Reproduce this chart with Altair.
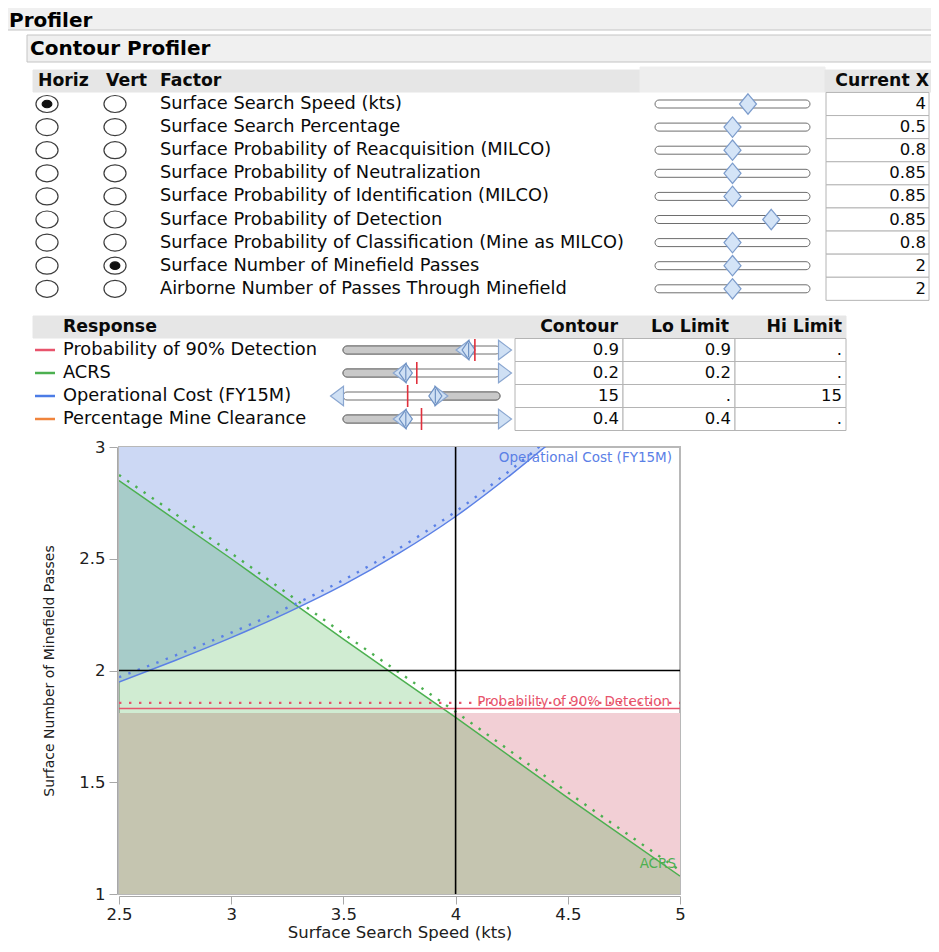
import altair as alt
import pandas as pd

# ---------------- values ----------------
factor_names = [
    "Surface Search Speed (kts)",
    "Surface Search Percentage",
    "Surface Probability of Reacquisition (MILCO)",
    "Surface Probability of Neutralization",
    "Surface Probability of Identification (MILCO)",
    "Surface Probability of Detection",
    "Surface Probability of Classification (Mine as MILCO)",
    "Surface Number of Minefield Passes",
    "Airborne Number of Passes Through Minefield",
]
factor_current = [4, 0.5, 0.8, 0.85, 0.85, 0.85, 0.8, 2, 2]
factor_current_text = ["4", "0.5", "0.8", "0.85", "0.85", "0.85", "0.8", "2", "2"]
factor_low = [2.5, 0.0, 0.7, 0.8, 0.8, 0.7, 0.7, 1, 1]
factor_high = [5.0, 1.0, 0.9, 0.9, 0.9, 0.9, 0.9, 3, 3]
horiz_factor = 0
vert_factor = 7

response_names = ["Probability of 90% Detection", "ACRS",
                  "Operational Cost (FY15M)", "Percentage Mine Clearance"]
response_colors = ["#e8546c", "#4cb050", "#4c7ce6", "#f0843c"]
response_contour = [0.9, 0.2, 15, 0.4]
response_contour_text = ["0.9", "0.2", "15", "0.4"]
response_lo = [0.9, 0.2, None, 0.4]
response_lo_text = ["0.9", "0.2", ".", "0.4"]
response_hi = [None, None, 15, None]
response_hi_text = [".", ".", "15", "."]
response_min = [0.5, 0.0, 5.0, 0.0]
response_max = [1.0, 0.5, 22.0, 1.0]
response_current = [0.92, 0.235, 12.0, 0.5]

# contour curves (x = Surface Search Speed, y = Surface Number of Minefield Passes)
acrs_x = [2.5, 3.0, 3.5, 4.0, 4.5, 5.0]
acrs_y = [2.85, 2.50, 2.14, 1.79, 1.43, 1.08]
cost_x = [2.5, 2.75, 3.0, 3.25, 3.5, 3.75, 4.0, 4.25, 4.45]
cost_y = [1.948, 2.045, 2.147, 2.259, 2.383, 2.526, 2.689, 2.879, 3.043]
detect_x = [2.5, 5.0]
detect_y = [1.83, 1.83]

# ---------------- layout (page pixels) ----------------
OX, OY = 119, 447          # plot origin on the page
PW, PH = 561, 447          # plot size
FY0, FSTEP = 104, 23.1     # factor rows
RY0, RSTEP = 350, 23       # response rows
FTRACK = (655, 810)
RTRACK = (343, 500)
FONT = "DejaVu Sans"
TXT = "#0a0a0a"
FS_TEXT = 17.8
FS_NUM = 16.5
FS_HEAD = 17.3
FS_TITLE = 20


def X(v):
    return v - OX


def Y(v):
    return v - OY


# rectangles: bars, bands, boxes
rects = []


def rect(x1, x2, y1, y2, fill, stroke):
    rects.append({"x": X(x1), "x2": X(x2), "y": Y(y1), "y2": Y(y2),
                  "fill": fill, "stroke": stroke})


rect(5, 945, 5, 30, "#f0f0f0", "#c4c4c4")
rect(27, 945, 35, 62, "#f0f0f0", "#c4c4c4")
rect(33, 640, 70, 92, "#e6e6e6", "#e6e6e6")
rect(640, 825, 67, 92, "#eeeeee", "#eeeeee")
rect(825, 945, 70, 92, "#e6e6e6", "#e6e6e6")
rect(33, 846, 316, 338, "#e6e6e6", "#e6e6e6")
for i in range(len(factor_names)):
    ry = FY0 + i * FSTEP
    rect(826, 929, ry - FSTEP / 2, ry + FSTEP / 2, "#ffffff", "#b4b4b4")
for j in range(len(response_names)):
    ry = RY0 + j * RSTEP
    for a, b in [(515, 623), (623, 735), (735, 846)]:
        rect(a, b, ry - RSTEP / 2, ry + RSTEP / 2, "#ffffff", "#b4b4b4")

tracks = []
symbols = []
cur_rules = []
legend_lines = []

ELL = "M-1.3,0A1.3,1,0,1,1,1.3,0A1.3,1,0,1,1,-1.3,0Z"
THUMB = "M0,-1.2L1,0L0,1.2L-1,0Z"
RTHUMB = "M0,-1.45L1,0L0,1.45L-1,0Z M0,-1.1L0,1.1"
TRI_L = "M1,-1.5L-1,0L1,1.5Z"
TRI_R = "M-1,-1.5L1,0L-1,1.5Z"

for i in range(len(factor_names)):
    ry = FY0 + i * FSTEP
    tracks.append({"x": X(FTRACK[0]), "x2": X(FTRACK[1]), "y": Y(ry - 4), "y2": Y(ry + 4), "fill": "#ffffff"})
    for k, cx in enumerate([47, 115]):
        symbols.append({"x": X(cx), "y": Y(ry), "shape": ELL, "size": 289, "fill": "#ffffff", "stroke": "#3c3c3c"})
        sel = horiz_factor if k == 0 else vert_factor
        if sel == i:
            symbols.append({"x": X(cx), "y": Y(ry), "shape": ELL, "size": 56, "fill": "#111111", "stroke": "#111111"})
for i in range(len(factor_names)):
    ry = FY0 + i * FSTEP
    frac = (factor_current[i] - factor_low[i]) / (factor_high[i] - factor_low[i])
    px = FTRACK[0] + frac * (FTRACK[1] - FTRACK[0])
    symbols.append({"x": X(px), "y": Y(ry), "shape": THUMB, "size": 289, "fill": "#d4e4f7", "stroke": "#7c9ccc"})

rw = RTRACK[1] - RTRACK[0]
for j in range(len(response_names)):
    ry = RY0 + j * RSTEP
    lo_, hi_ = response_min[j], response_max[j]

    def pos(v):
        return RTRACK[0] + (v - lo_) / (hi_ - lo_) * rw

    tracks.append({"x": X(RTRACK[0]), "x2": X(RTRACK[1]), "y": Y(ry - 4), "y2": Y(ry + 4), "fill": "#ffffff"})
    if response_lo[j] is not None:
        tracks.append({"x": X(RTRACK[0]), "x2": X(pos(response_lo[j])), "y": Y(ry - 4), "y2": Y(ry + 4), "fill": "#c9c9c9"})
        lx = pos(response_lo[j]) - 6
    else:
        lx = RTRACK[0] - 6
    if response_hi[j] is not None:
        tracks.append({"x": X(pos(response_hi[j])), "x2": X(RTRACK[1]), "y": Y(ry - 4), "y2": Y(ry + 4), "fill": "#c9c9c9"})
        hx = pos(response_hi[j]) + 6
    else:
        hx = RTRACK[1] + 5
    symbols.append({"x": X(lx), "y": Y(ry), "shape": TRI_L, "size": 169, "fill": "#cfe0f4", "stroke": "#8aa6d0"})
    symbols.append({"x": X(hx), "y": Y(ry), "shape": TRI_R, "size": 169, "fill": "#cfe0f4", "stroke": "#8aa6d0"})
    symbols.append({"x": X(pos(response_contour[j])), "y": Y(ry), "shape": RTHUMB, "size": 169, "fill": "#cfe0f4", "stroke": "#6f92c4"})
    cx = pos(response_current[j])
    cur_rules.append({"x": X(cx), "y": Y(ry - 11), "y2": Y(ry + 11)})
    legend_lines.append({"x": X(35), "x2": X(55), "y": Y(ry), "c": response_colors[j]})

# texts
bold_left, bold_right, norm_left, norm_right = [], [], [], []


def txt(lst, s, x, y, fs, c=TXT):
    lst.append({"t": s, "x": X(x), "y": Y(y), "fs": fs, "c": c})


txt(bold_left, "Profiler", 9, 20.5, FS_TITLE, "#000000")
txt(bold_left, "Contour Profiler", 30, 49, FS_TITLE, "#000000")
for s, x in [("Horiz", 38), ("Vert", 106), ("Factor", 160)]:
    txt(bold_left, s, x, 81, FS_HEAD)
txt(bold_right, "Current X", 929, 81, FS_HEAD)
txt(bold_left, "Response", 63, 327, FS_HEAD)
for s, x in [("Contour", 618), ("Lo Limit", 729), ("Hi Limit", 842)]:
    txt(bold_right, s, x, 327, FS_HEAD)
for i, name in enumerate(factor_names):
    ry = FY0 + i * FSTEP
    txt(norm_left, name, 160, ry, FS_TEXT)
    txt(norm_right, factor_current_text[i], 926, ry, FS_NUM)
for j, name in enumerate(response_names):
    ry = RY0 + j * RSTEP
    txt(norm_left, name, 63, ry, FS_TEXT)
    txt(norm_right, response_contour_text[j], 619, ry, FS_NUM)
    txt(norm_right, response_lo_text[j], 731, ry, FS_NUM)
    txt(norm_right, response_hi_text[j], 842, ry, FS_NUM)

# ---------------- UI layers (pixel positions) ----------------
PXX = alt.X("x:Q", scale=None, axis=None)
PXY = alt.Y("y:Q", scale=None, axis=None)

ui_rects = alt.Chart(pd.DataFrame(rects)).mark_rect(strokeWidth=1).encode(
    x=PXX, x2="x2:Q", y=PXY, y2="y2:Q",
    fill=alt.Fill("fill:N", scale=None), stroke=alt.Stroke("stroke:N", scale=None))

ui_tracks = alt.Chart(pd.DataFrame(tracks)).mark_rect(
    cornerRadius=4, stroke="#6e6e6e", strokeWidth=1).encode(
    x=PXX, x2="x2:Q", y=PXY, y2="y2:Q", fill=alt.Fill("fill:N", scale=None))

ui_legend = alt.Chart(pd.DataFrame(legend_lines)).mark_rule(strokeWidth=2.5).encode(
    x=PXX, x2="x2:Q", y=PXY, color=alt.Color("c:N", scale=None))

ui_cur = alt.Chart(pd.DataFrame(cur_rules)).mark_rule(color="#e0303c", strokeWidth=1.6).encode(
    x=PXX, y=PXY, y2="y2:Q")

ui_symbols = alt.Chart(pd.DataFrame(symbols)).mark_point(
    filled=True, opacity=1, strokeWidth=1.2).encode(
    x=PXX, y=PXY,
    shape=alt.Shape("shape:N", scale=None), size=alt.Size("size:Q", scale=None),
    fill=alt.Fill("fill:N", scale=None), stroke=alt.Stroke("stroke:N", scale=None))


def text_layer(rows, align, weight):
    return alt.Chart(pd.DataFrame(rows)).mark_text(
        align=align, baseline="middle", font=FONT, fontWeight=weight).encode(
        x=PXX, y=PXY, text="t:N",
        size=alt.Size("fs:Q", scale=None), color=alt.Color("c:N", scale=None))


ui_texts = [text_layer(bold_left, "left", "bold"), text_layer(bold_right, "right", "bold"),
            text_layer(norm_left, "left", "normal"), text_layer(norm_right, "right", "normal")]

# ---------------- contour plot ----------------
xs = alt.Scale(domain=[2.5, 5], nice=False, zero=False)
ys = alt.Scale(domain=[1, 3], nice=False, zero=False)
axis_common = dict(grid=False, offset=2, tickSize=8, domainColor="#a8a8a8", tickColor="#a8a8a8",
                   labelColor="#202020", titleColor="#202020", labelFont=FONT, titleFont=FONT,
                   titleFontWeight="normal", labelFlush=False, labelFontSize=16.5)
xaxis = alt.Axis(title="Surface Search Speed (kts)", values=[2.5, 3, 3.5, 4, 4.5, 5], format="~g",
                 labelPadding=2, titlePadding=2, titleFontSize=16.5, **axis_common)
yaxis = alt.Axis(title="Surface Number of Minefield Passes", values=[1, 1.5, 2, 2.5, 3], format="~g",
                 labelPadding=4, titlePadding=22, titleFontSize=14, **axis_common)

EX = alt.X("x:Q", scale=xs, axis=xaxis)
EY = alt.Y("y:Q", scale=ys, axis=yaxis)

df_acrs = pd.DataFrame({"x": acrs_x, "y": acrs_y})
df_cost = pd.DataFrame({"x": cost_x, "y": cost_y})
df_det = pd.DataFrame({"x": detect_x, "y": detect_y})

blue_area = alt.Chart(df_cost).mark_area(color="#ccd8f4", clip=True, interpolate="monotone").encode(
    x=EX, y=EY, y2=alt.datum(3))
red_area = alt.Chart(df_det).transform_calculate(yf="datum.y - 0.02").mark_area(
    color="#f2cfd5", clip=True).encode(
    x=EX, y=alt.Y("yf:Q", scale=ys, axis=yaxis), y2=alt.datum(1))
# translucent green drawn over the others gives the mixed teal / olive overlaps
green_area = alt.Chart(df_acrs).mark_area(color="#14a01e", opacity=0.2, clip=True).encode(
    x=EX, y=EY, y2=alt.datum(1))


def contour_lines(df, color, dy):
    solid = alt.Chart(df).mark_line(color=color, strokeWidth=1.5, clip=True,
                                    interpolate="monotone").encode(x=EX, y=EY)
    dots = alt.Chart(df).transform_calculate(yd=f"datum.y + {dy}").mark_line(
        color=color, strokeWidth=2.4, strokeDash=[2.4, 7.6], clip=True,
        interpolate="monotone").encode(
        x=EX, y=alt.Y("yd:Q", scale=ys, axis=yaxis))
    return [solid, dots]


lines = (contour_lines(df_acrs, "#4cb050", 0.025)
         + contour_lines(df_cost, "#5b80e6", 0.022)
         + contour_lines(df_det, "#e8546c", 0.025))

vline = alt.Chart(pd.DataFrame({"x": [factor_current[horiz_factor]]})).mark_rule(
    color="#000000", strokeWidth=1.6).encode(x=EX)
hline = alt.Chart(pd.DataFrame({"y": [factor_current[vert_factor]]})).mark_rule(
    color="#000000", strokeWidth=1.6).encode(y=EY)

label_text = ["Operational Cost (FY15M)", "Probability of 90% Detection", "ACRS"]
label_y = [2.952, 1.858, 1.136]
label_color = ["#5b80e6", "#e8546c", "#4cb050"]
label_dx = [-8, -10, -4]
labels = [
    alt.Chart(pd.DataFrame({"x": [5], "y": [label_y[k]], "t": [label_text[k]]})).mark_text(
        align="right", baseline="middle", font=FONT, fontSize=13.5,
        color=label_color[k], dx=label_dx[k]).encode(x=EX, y=EY, text="t:N")
    for k in range(3)
]

layers = ([ui_rects, ui_tracks, ui_legend, ui_symbols, ui_cur] + ui_texts
          + [blue_area, red_area, green_area] + lines + [vline, hline] + labels)

chart = alt.layer(*layers).properties(
    width=PW, height=PH,
    autosize=alt.AutoSizeParams(type="none"),
    padding={"left": OX - 8, "top": OY - 8, "right": 923 - (OX - 8) - PW, "bottom": 936 - (OY - 8) - PH},
    background="white",
).configure_view(stroke="#b8b8b8", strokeWidth=2, fill="white")

chart.save("out.html", embed_options={"renderer": "svg", "actions": False})
